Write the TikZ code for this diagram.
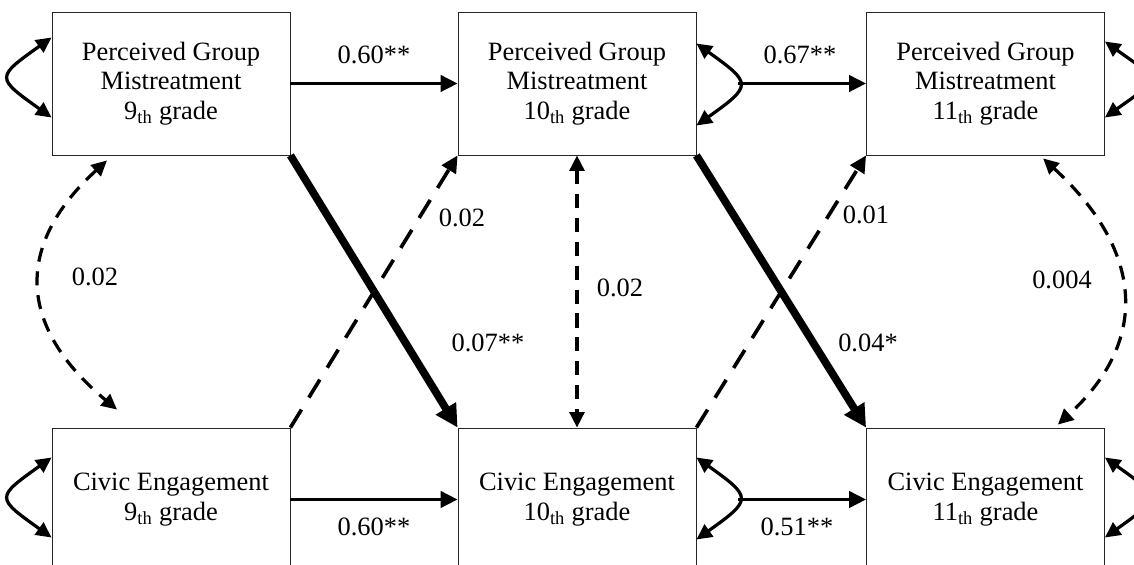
\documentclass[tikz,border=0pt]{standalone}
\usepackage{fontspec}
\setmainfont{Liberation Serif}
\usepackage{tikz}
\usetikzlibrary{arrows.meta, positioning, calc}

\begin{document}
\begin{tikzpicture}[
  box/.style={draw=black!85, line width=0.6pt, minimum width=5.95cm, minimum height=3.575cm, align=center, font=\fontsize{18.8pt}{21pt}\selectfont},
  lbl/.style={font=\fontsize{18.8pt}{21pt}\selectfont},
  reg/.style={line width=2.3pt, -{Triangle[length=12pt, width=11.5pt]}},
  cross/.style={line width=5.5pt, -{Triangle[length=16pt, width=16pt]}},
  cov/.style={line width=2.3pt, {Triangle[length=11pt, width=10.5pt]}-{Triangle[length=11pt, width=10.5pt]}},
  ns/.style={dash pattern=on 10pt off 7pt},
  nsdiag/.style={line width=2.6pt, dash pattern=on 15pt off 10pt}
]
\clip (0,0) rectangle (28.35,14.125);

% boxes
\node[box] (pgm9) at (4.275,12.0375) {Perceived Group\\Mistreatment\\9\textsubscript{th} grade};
\node[box] (pgm10) at (14.425,12.0375) {Perceived Group\\Mistreatment\\10\textsubscript{th} grade};
\node[box] (pgm11) at (24.6375,12.0375) {Perceived Group\\Mistreatment\\11\textsubscript{th} grade};
\node[box] (ce9) at (4.275,1.6375) {Civic Engagement\\9\textsubscript{th} grade};
\node[box] (ce10) at (14.425,1.6375) {Civic Engagement\\10\textsubscript{th} grade};
\node[box] (ce11) at (24.6375,1.6375) {Civic Engagement\\11\textsubscript{th} grade};

% stability paths
\coordinate (apex10) at ($(pgm10.east)+(1.05,0)$);
\coordinate (apexce10) at ($(ce10.east)+(1.05,0)$);
\draw[reg] (pgm9) -- (pgm10);
\draw[reg] (apex10) -- (pgm11.west);
\draw[reg] (ce9) -- (ce10);
\draw[reg] (apexce10) -- (ce11.west);
\node[lbl] (s1) at (9.35,12.75) {0.60**};
\node[lbl] (s2) at (20.0,12.75) {0.67**};
\node[lbl] (s3) at (9.35,0.95) {0.60**};
\node[lbl] (s4) at (19.925,0.95) {0.51**};

% residual variances
\draw[cov] ([yshift=1.15cm]pgm9.west) .. controls +(-1.4,-1.0) and +(-1.4,1.0) .. ([yshift=-0.85cm]pgm9.west);
\draw[cov] ([yshift=1.05cm]ce9.west) .. controls +(-1.4,-1.0) and +(-1.4,1.0) .. ([yshift=-0.95cm]ce9.west);
\draw[cov] ([yshift=1.0cm]pgm10.east) .. controls +(1.4,-1.0) and +(1.4,1.0) .. ([yshift=-1.05cm]pgm10.east);
\draw[cov] ([yshift=1.05cm]ce10.east) .. controls +(1.4,-1.0) and +(1.4,1.0) .. ([yshift=-1.0cm]ce10.east);
\draw[cov] ([yshift=1.05cm]pgm11.east) .. controls +(1.4,-1.0) and +(1.4,1.0) .. ([yshift=-0.85cm]pgm11.east);
\draw[cov] ([yshift=1.05cm]ce11.east) .. controls +(1.4,-1.0) and +(1.4,1.0) .. ([yshift=-0.95cm]ce11.east);

% covariances
\draw[cov, ns] ([xshift=-1.6cm, yshift=-0.125cm]pgm9.south) .. controls +(-2.4,-2.2) and +(-2.4,2.0) .. ([xshift=-1.35cm, yshift=0.45cm]ce9.north);
\draw[cov, ns] (pgm10) -- (ce10);
\draw[cov, ns] ([xshift=1.44cm, yshift=-0.075cm]pgm11.south) .. controls +(2.4,-2.2) and +(2.4,2.2) .. ([xshift=1.81cm, yshift=0.075cm]ce11.north);
\node[lbl] (c1) at (2.375,7.2) {0.02};
\node[lbl] (c2) at (15.5,6.925) {0.02};
\node[lbl] (c3) at (26.55,7.125) {0.004};

% cross-lagged paths
\draw[cross] (pgm9.south east) -- (ce10.north west);
\draw[cross] (pgm10.south east) -- (ce11.north west);
\draw[reg, nsdiag] (ce9.north east) -- (pgm10.south west);
\draw[reg, nsdiag] (ce10.north east) -- (pgm11.south west);
\node[lbl] (x1) at (11.55,8.675) {0.02};
\node[lbl] (x2) at (12.2,5.55) {0.07**};
\node[lbl] (x3) at (21.65,8.75) {0.01};
\node[lbl] (x4) at (21.7,5.55) {0.04*};
\end{tikzpicture}
\end{document}
